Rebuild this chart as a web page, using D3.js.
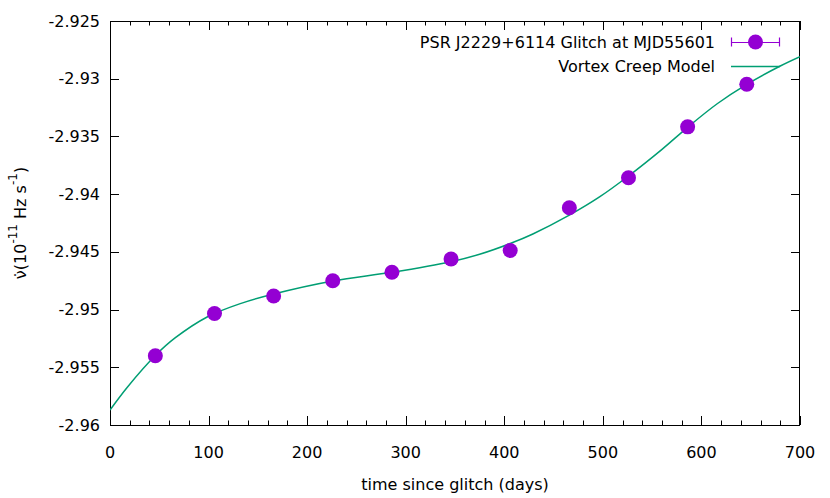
<!DOCTYPE html>
<html><head><meta charset="utf-8">
<script src="https://cdn.jsdelivr.net/npm/d3@7"></script>
<style>body{margin:0;background:#fff}text{font-family:"DejaVu Sans",sans-serif;font-size:16px;fill:#000}</style>
</head><body><svg id="c" width="830" height="498"></svg>
<script>
// Data (days since glitch, nu-dot in 1e-11 Hz/s)
const obsDays = [46, 106, 166, 226, 286, 346, 406, 466, 526, 586, 646];
const obsNudot = [-2.95400, -2.95034, -2.94882, -2.94750, -2.94677, -2.94562, -2.94488, -2.94118, -2.93858, -2.93417, -2.93048];
const modelDays = [0, 18, 46, 66, 99, 133, 166, 226, 286, 346, 375, 406, 429, 466, 497, 526, 560, 586, 616, 646, 680, 700];
const modelNudot = [-2.95870, -2.95668, -2.95398, -2.95246, -2.95062, -2.94946, -2.94865, -2.94752, -2.94677, -2.94585, -2.94521, -2.94428, -2.94345, -2.94182, -2.94022, -2.93843, -2.93612, -2.93421, -2.93217, -2.93049, -2.92890, -2.92809];
const xTicks = [0, 100, 200, 300, 400, 500, 600, 700];
const yTicks = [-2.925, -2.93, -2.935, -2.94, -2.945, -2.95, -2.955, -2.96];
const seriesNames = ["PSR J2229+6114 Glitch at MJD55601", "Vortex Creep Model"];

const L = 110, R = 800, T = 21, B = 425;
const svg = d3.select("#c");
const x = d3.scaleLinear().domain([0, 700]).range([L, R]);
const y = d3.scaleLinear().domain([-2.96, -2.925]).range([B, T]);

// ticks
const g = svg.append("g").attr("stroke", "#000").attr("stroke-width", 1);
const minorX = d3.range(0, 701, 20);
minorX.forEach(d => {
  const major = d % 100 === 0;
  const len = major ? 9 : 4.5;
  const px = Math.round(x(d)) + 0.5;
  g.append("line").attr("x1", px).attr("x2", px).attr("y1", B).attr("y2", B - len);
  g.append("line").attr("x1", px).attr("x2", px).attr("y1", T).attr("y2", T + len);
});
yTicks.forEach(d => {
  const py = Math.round(y(d)) + 0.5;
  g.append("line").attr("x1", L).attr("x2", L + 9).attr("y1", py).attr("y2", py);
  g.append("line").attr("x1", R).attr("x2", R - 9).attr("y1", py).attr("y2", py);
});
svg.append("rect").attr("x", L + 0.5).attr("y", T + 0.5).attr("width", R - L - 1).attr("height", B - T)
  .attr("fill", "none").attr("stroke", "#000").attr("stroke-width", 1);

// tick labels
svg.append("g").selectAll("text").data(xTicks).join("text")
  .attr("x", d => x(d)).attr("y", 452).attr("text-anchor", "middle").attr("dominant-baseline", "central")
  .text(d => String(d));
svg.append("g").selectAll("text").data(yTicks).join("text")
  .attr("x", 100).attr("y", d => y(d)).attr("text-anchor", "end").attr("dominant-baseline", "central")
  .text(d => String(d));

// axis titles
svg.append("text").attr("x", 455).attr("y", 484).attr("text-anchor", "middle").attr("dominant-baseline", "central")
  .text("time since glitch (days)");
const yt = svg.append("text").attr("transform", "translate(20,223) rotate(-90)").attr("text-anchor", "middle")
  .attr("dominant-baseline", "central");
yt.append("tspan").text("\u03BD\u0307(10");
yt.append("tspan").attr("baseline-shift", "super").attr("font-size", "12px").text("-11");
yt.append("tspan").text(" Hz s");
yt.append("tspan").attr("baseline-shift", "super").attr("font-size", "12px").text("-1");
yt.append("tspan").text(")");

// clip
svg.append("clipPath").attr("id", "clip").append("rect").attr("x", L).attr("y", T).attr("width", R - L).attr("height", B - T);

// model line
const model = modelDays.map((d, i) => [d, modelNudot[i]]);
svg.append("path").attr("clip-path", "url(#clip)")
  .attr("d", d3.line().x(d => x(d[0])).y(d => y(d[1])).curve(d3.curveCatmullRom)(model))
  .attr("fill", "none").attr("stroke", "#009E73").attr("stroke-width", 1.5);

// points
svg.append("g").selectAll("circle").data(obsDays.map((d, i) => [d, obsNudot[i]])).join("circle")
  .attr("cx", d => x(d[0])).attr("cy", d => y(d[1])).attr("r", 7.5).attr("fill", "#9400D3");

// legend
const lx1 = 731, lx2 = 780, ly1 = 42, ly2 = 66;
svg.append("text").attr("x", 715).attr("y", ly1).attr("text-anchor", "end").attr("dominant-baseline", "central").text(seriesNames[0]);
svg.append("text").attr("x", 715).attr("y", ly2).attr("text-anchor", "end").attr("dominant-baseline", "central").text(seriesNames[1]);
const lg = svg.append("g").attr("stroke", "#9400D3").attr("stroke-width", 1.2);
lg.append("line").attr("x1", lx1).attr("x2", lx2).attr("y1", ly1 + 0.5).attr("y2", ly1 + 0.5);
lg.append("line").attr("x1", lx1 + 0.5).attr("x2", lx1 + 0.5).attr("y1", ly1 - 4.5).attr("y2", ly1 + 4.5);
lg.append("line").attr("x1", lx2 - 0.5).attr("x2", lx2 - 0.5).attr("y1", ly1 - 4.5).attr("y2", ly1 + 4.5);
svg.append("circle").attr("cx", (lx1 + lx2) / 2).attr("cy", ly1).attr("r", 7.5).attr("fill", "#9400D3");
svg.append("line").attr("x1", lx1).attr("x2", lx2).attr("y1", ly2 + 0.5).attr("y2", ly2 + 0.5)
  .attr("stroke", "#009E73").attr("stroke-width", 1.5);
</script></body></html>
